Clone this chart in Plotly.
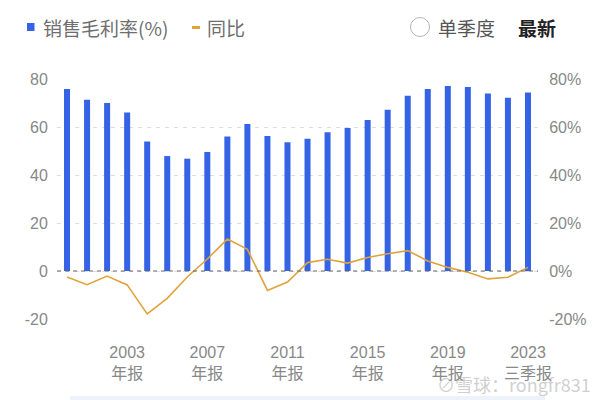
import plotly.graph_objects as go

# ---- data ----
categories = [f"{y}年报" for y in range(2000, 2023)] + ["2023三季报"]
gross_margin = [75.8, 71.4, 70.0, 66.0, 54.0, 47.9, 46.8, 49.6, 56.0, 61.3, 56.3, 53.6,
                55.1, 57.8, 59.6, 62.9, 67.2, 73.0, 75.8, 77.1, 76.7, 74.0, 72.2, 74.4]
yoy = [-2.5, -5.7, -2.1, -5.8, -17.9, -11.4, -2.5, 5.0, 13.3, 9.0, -8.1, -4.6,
       3.5, 4.9, 3.3, 5.6, 7.2, 8.5, 4.2, 1.5, -0.5, -3.3, -2.6, 1.5]
tick_cats = ["2003年报", "2007年报", "2011年报", "2015年报", "2019年报", "2023三季报"]
tick_text = ["2003<br>年报", "2007<br>年报", "2011<br>年报", "2015<br>年报", "2019<br>年报", "2023<br>三季报"]
y_ticks = [-20, 0, 20, 40, 60, 80]
y_tick_text = ["-20", "0", "20", "40", "60", "80"]
y2_tick_text = ["-20%", "0%", "20%", "40%", "60%", "80%"]

W, H = 609, 400
L, R, T, B = 57, 71, 79, 81
PW, PH = W - L - R, H - T - B

def px(x):
    return (x - L) / PW

def py(y):
    return (H - B - y) / PH

FONT = "Liberation Sans, Noto Sans CJK SC, sans-serif"
CJK = "Noto Sans CJK SC, sans-serif"
BLUE = "#3563e6"
ORANGE = "#e0a33a"

fig = go.Figure()
fig.add_trace(go.Bar(x=categories, y=gross_margin, marker_color=BLUE,
                     marker_line_width=0, name="销售毛利率(%)", yaxis="y"))
fig.add_trace(go.Scatter(x=categories, y=yoy, mode="lines", name="同比",
                         line=dict(color=ORANGE, width=1.6), yaxis="y2"))

shapes = [
    dict(type="line", xref="paper", x0=0, x1=1, yref="y", y0=0, y1=0,
         line=dict(color="#666666", width=1, dash="4px,4px"), layer="above"),
    dict(type="rect", xref="paper", yref="paper", x0=px(27), x1=px(34.5), y0=py(23), y1=py(31),
         fillcolor=BLUE, line=dict(width=0)),
    dict(type="line", xref="paper", yref="paper", x0=px(192), x1=px(200), y0=py(27.5), y1=py(27.5),
         line=dict(color=ORANGE, width=3)),
    dict(type="circle", xref="paper", yref="paper", x0=px(410.5), x1=px(429.5), y0=py(17.5), y1=py(36.5),
         line=dict(color="#b5b5b5", width=1), fillcolor="white"),
    dict(type="rect", xref="paper", yref="paper", x0=px(70), x1=px(545), y0=py(400), y1=py(396),
         fillcolor="#eef3fb", line=dict(width=0), layer="below"),
]

annotations = [
    dict(text="销售毛利率(%)", x=px(41), y=py(27.5), xref="paper", yref="paper",
         xanchor="left", yanchor="middle", showarrow=False,
         font=dict(size=19, color="#6e6e6e", family=CJK)),
    dict(text="同比", x=px(205), y=py(27.5), xref="paper", yref="paper",
         xanchor="left", yanchor="middle", showarrow=False,
         font=dict(size=19, color="#6e6e6e", family=CJK)),
    dict(text="单季度", x=px(436), y=py(27.5), xref="paper", yref="paper",
         xanchor="left", yanchor="middle", showarrow=False,
         font=dict(size=19, color="#555555", family=CJK)),
    dict(text="<b>最新</b>", x=px(516), y=py(27.5), xref="paper", yref="paper",
         xanchor="left", yanchor="middle", showarrow=False,
         font=dict(size=19, color="#222222", family=CJK)),
    dict(text="⊘雪球：rongfr831", x=px(593), y=py(384), xref="paper", yref="paper",
         xanchor="right", yanchor="middle", showarrow=False,
         font=dict(size=18, color="rgba(160,160,160,0.5)", family=CJK)),
]

fig.update_layout(
    width=W, height=H,
    margin=dict(l=L, r=R, t=T, b=B, pad=0),
    paper_bgcolor="white", plot_bgcolor="white",
    showlegend=False, bargap=0.7,
    font=dict(family=FONT, size=15, color="#888888"),
    xaxis=dict(type="category", categoryorder="array", categoryarray=categories,
               tickmode="array", tickvals=tick_cats, ticktext=tick_text,
               showgrid=False, zeroline=False, showline=False,
               ticks="outside", ticklen=19, tickcolor="rgba(0,0,0,0)",
               tickfont=dict(size=16, color="#888888", family=FONT),
               range=[-0.5, len(categories) - 0.5]),
    yaxis=dict(range=[-20, 80], tickmode="array", tickvals=y_ticks, ticktext=y_tick_text,
               showgrid=True, gridcolor="#dddddd", griddash="4px,5px", gridwidth=1,
               zeroline=False, showline=False,
               ticks="outside", ticklen=5, tickcolor="rgba(0,0,0,0)",
               tickfont=dict(size=16, color="#888888", family=FONT)),
    yaxis2=dict(range=[-20, 80], tickmode="array", tickvals=y_ticks, ticktext=y2_tick_text,
                overlaying="y", side="right", showgrid=False, zeroline=False, showline=False,
                ticks="outside", ticklen=7, tickcolor="rgba(0,0,0,0)",
                tickfont=dict(size=16, color="#888888", family=FONT)),
    shapes=shapes, annotations=annotations,
)

fig.write_html("out.html")
